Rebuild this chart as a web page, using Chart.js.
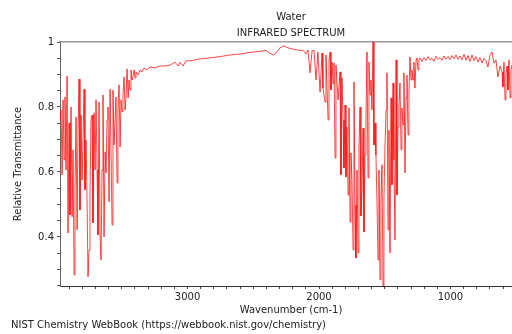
<!DOCTYPE html>
<html>
<head>
<meta charset="utf-8">
<script src="https://cdn.jsdelivr.net/npm/chart.js@4"></script>
<style>
    html, body { margin: 0; padding: 0; background: #fff; overflow: hidden; }
    #wrap { position: relative; width: 530px; height: 334px; }
    #credit {
        position: absolute; left: 11px; top: 319px;
        font: 10px "DejaVu Sans", sans-serif; color: #222; white-space: nowrap;
    }
</style>
</head>
<body>
<div id="wrap">
    <canvas id="irChart" width="530" height="334"></canvas>
    <div id="credit">NIST Chemistry WebBook (https://webbook.nist.gov/chemistry)</div>
</div>
<script>
const wavenumbers = [
    3970, 3962, 3954, 3947, 3939, 3932, 3924, 3916, 3909, 3901, 3894, 3886, 3878, 3871, 3863, 3856,
    3848, 3840, 3833, 3825, 3818, 3810, 3802, 3795, 3787, 3780, 3772, 3764, 3757, 3749, 3742, 3734,
    3726, 3719, 3711, 3703, 3696, 3688, 3681, 3673, 3665, 3658, 3650, 3643, 3635, 3627, 3620, 3612,
    3605, 3597, 3589, 3582, 3574, 3567, 3559, 3551, 3544, 3536, 3529, 3521, 3513, 3506, 3498, 3491,
    3483, 3475, 3468, 3460, 3452, 3445, 3437, 3430, 3422, 3414, 3407, 3399, 3392, 3376, 3361, 3346,
    3331, 3308, 3285, 3247, 3209, 3171, 3133, 3095, 3072, 3057, 3034, 3011, 2981, 2905, 2829, 2753,
    2677, 2601, 2525, 2449, 2403, 2373, 2350, 2327, 2297, 2274, 2251, 2220, 2182, 2144, 2122, 2099,
    2084, 2068, 2053, 2038, 2023, 2008, 1992, 1977, 1970, 1954, 1947, 1931, 1924, 1916, 1909, 1901,
    1893, 1886, 1878, 1871, 1855, 1840, 1833, 1825, 1817, 1810, 1802, 1795, 1787, 1779, 1772, 1764,
    1757, 1749, 1741, 1734, 1726, 1719, 1711, 1703, 1696, 1688, 1681, 1673, 1665, 1658, 1650, 1643,
    1635, 1627, 1620, 1612, 1605, 1597, 1589, 1582, 1574, 1567, 1559, 1551, 1544, 1536, 1529, 1521,
    1513, 1506, 1498, 1490, 1483, 1475, 1468, 1460, 1452, 1445, 1437, 1430, 1422, 1414, 1407, 1399,
    1392, 1384, 1376, 1369, 1361, 1354, 1346, 1338, 1331, 1323, 1316, 1308, 1300, 1293, 1285, 1278,
    1270, 1262, 1255, 1247, 1240, 1232, 1217, 1202, 1187, 1171, 1156, 1141, 1126, 1111, 1095, 1080,
    1065, 1050, 1035, 1019, 1004, 989, 974, 958, 943, 928, 913, 897, 882, 867, 852, 836,
    821, 806, 791, 776, 760, 745, 730, 715, 700, 684, 669, 654, 639, 623, 608, 601,
    593, 585, 578, 570, 563, 555, 547, 540, 532, 509, 487, 456
];
const transmittance = [
    0.760, 0.791, 0.591, 0.822, 0.637, 0.831, 0.606, 0.895, 0.412, 0.751, 0.468, 0.800, 0.462, 0.668, 0.283, 0.545,
    0.769, 0.422, 0.729, 0.886, 0.483, 0.775, 0.575, 0.698, 0.855, 0.545, 0.698, 0.505, 0.277, 0.360, 0.535, 0.760,
    0.775, 0.443, 0.782, 0.606, 0.822, 0.606, 0.406, 0.815, 0.400, 0.329, 0.606, 0.837, 0.400, 0.662, 0.597, 0.760,
    0.800, 0.508, 0.855, 0.668, 0.437, 0.852, 0.683, 0.760, 0.831, 0.566, 0.791, 0.868, 0.677, 0.822, 0.785, 0.837,
    0.892, 0.791, 0.828, 0.917, 0.828, 0.883, 0.852, 0.914, 0.883, 0.895, 0.914, 0.889, 0.908, 0.898, 0.914, 0.908,
    0.920, 0.914, 0.923, 0.920, 0.926, 0.926, 0.929, 0.938, 0.926, 0.938, 0.926, 0.942, 0.942, 0.948, 0.951, 0.955,
    0.960, 0.963, 0.968, 0.971, 0.974, 0.966, 0.960, 0.966, 0.982, 0.988, 0.985, 0.980, 0.977, 0.974, 0.975, 0.963,
    0.975, 0.905, 0.972, 0.975, 0.883, 0.969, 0.846, 0.966, 0.858, 0.815, 0.960, 0.760, 0.945, 0.969, 0.852, 0.938,
    0.871, 0.935, 0.643, 0.929, 0.822, 0.908, 0.591, 0.889, 0.760, 0.612, 0.806, 0.585, 0.738, 0.529, 0.797, 0.446,
    0.659, 0.575, 0.360, 0.877, 0.498, 0.335, 0.606, 0.351, 0.683, 0.800, 0.465, 0.545, 0.735, 0.415, 0.652, 0.754,
    0.969, 0.582, 0.938, 0.837, 0.883, 0.791, 1.000, 0.683, 0.751, 0.652, 0.514, 0.329, 0.606, 0.268, 0.514, 0.622,
    0.249, 0.514, 0.683, 0.791, 0.905, 0.422, 0.729, 0.351, 0.828, 0.560, 0.874, 0.637, 0.391, 0.945, 0.529, 0.738,
    0.803, 0.874, 0.668, 0.797, 0.745, 0.905, 0.597, 0.828, 0.898, 0.714, 0.837, 0.954, 0.883, 0.914, 0.883, 0.938,
    0.858, 0.945, 0.951, 0.914, 0.945, 0.951, 0.940, 0.952, 0.943, 0.955, 0.945, 0.950, 0.941, 0.956, 0.946, 0.952,
    0.944, 0.957, 0.947, 0.955, 0.946, 0.958, 0.948, 0.960, 0.947, 0.957, 0.945, 0.962, 0.944, 0.958, 0.940, 0.960,
    0.943, 0.955, 0.938, 0.952, 0.935, 0.950, 0.942, 0.923, 0.960, 0.969, 0.935, 0.945, 0.892, 0.926, 0.908, 0.862,
    0.938, 0.822, 0.898, 0.926, 0.852, 0.945, 0.828, 0.914, 0.929, 0.914, 0.929, 0.920
];

const xTickLabels = [3000, 2000, 1000];
const yTickLabels = [0.4, 0.6, 0.8, 1];
const titleLines = ['Water', 'INFRARED SPECTRUM'];
const xAxisTitle = 'Wavenumber (cm-1)';
const yAxisTitle = 'Relative Transmittance';

const xMin = 456;
const xMax = 3970;
const yMin = 0.249;
const yMax = 1;

const fontFamily = '"DejaVu Sans", sans-serif';
const textColor = '#222';

// Graduations secondaires : tous les 100 cm-1 et tous les 0.05
const xMinorTicks = [];
for (let v = Math.ceil(xMin / 100) * 100; v <= xMax; v += 100) xMinorTicks.push(v);
const yMinorTicks = [];
for (let v = Math.ceil(yMin * 20); v <= yMax * 20; v++) yMinorTicks.push(v / 20);

const points = wavenumbers.map((w, i) => ({ x: w, y: transmittance[i] }));

const ctx = document.getElementById('irChart').getContext('2d');
new Chart(ctx, {
    type: 'line',
    data: {
        datasets: [{
            label: 'Water',
            data: points,
            borderColor: 'rgba(255, 0, 0, 0.72)',
            borderWidth: 1,
            pointRadius: 0,
            tension: 0,
            fill: false
        }]
    },
    options: {
        responsive: false,
        animation: false,
        layout: { padding: { left: 0, right: 8, top: 0, bottom: 18 } },
        plugins: {
            legend: { display: false },
            tooltip: { enabled: false },
            title: {
                display: true,
                text: titleLines,
                fullSize: false,
                color: textColor,
                font: { family: fontFamily, size: 10, weight: 'normal', lineHeight: 1.6 },
                padding: { top: 9, bottom: 1 }
            }
        },
        scales: {
            x: {
                type: 'linear',
                position: 'bottom',
                reverse: true,
                min: xMin,
                max: xMax,
                afterBuildTicks: s => { s.ticks = xMinorTicks.map(v => ({ value: v })); },
                afterFit: s => { s.height = 30; },
                ticks: {
                    autoSkip: false,
                    maxRotation: 0,
                    padding: 2,
                    color: textColor,
                    font: { family: fontFamily, size: 10 },
                    callback: v => (xTickLabels.includes(v) ? String(v) : '')
                },
                grid: { drawOnChartArea: false, drawTicks: true, tickLength: 3, tickColor: '#444' },
                border: { color: '#333', width: 1 },
                title: {
                    display: true,
                    text: xAxisTitle,
                    color: textColor,
                    font: { family: fontFamily, size: 10 },
                    padding: { top: 1, bottom: 0 }
                }
            },
            xTop: {
                type: 'linear',
                position: 'top',
                reverse: true,
                min: xMin,
                max: xMax,
                afterFit: s => { s.height = 0; },
                ticks: { display: false },
                grid: { drawOnChartArea: false, drawTicks: false },
                border: { color: '#999', width: 1.5 }
            },
            y: {
                type: 'linear',
                min: yMin,
                max: yMax,
                afterBuildTicks: s => { s.ticks = yMinorTicks.map(v => ({ value: v })); },
                afterFit: s => { s.width = 60; },
                ticks: {
                    autoSkip: false,
                    padding: 3,
                    color: textColor,
                    font: { family: fontFamily, size: 10 },
                    callback: v => (yTickLabels.some(t => Math.abs(t - v) < 1e-6) ? String(v) : '')
                },
                grid: { drawOnChartArea: false, drawTicks: true, tickLength: 3, tickColor: '#555' },
                border: { color: '#666', width: 1 },
                title: {
                    display: true,
                    text: yAxisTitle,
                    color: textColor,
                    font: { family: fontFamily, size: 10 },
                    padding: { top: 12, bottom: 0 }
                }
            }
        }
    }
});
</script>
</body>
</html>
